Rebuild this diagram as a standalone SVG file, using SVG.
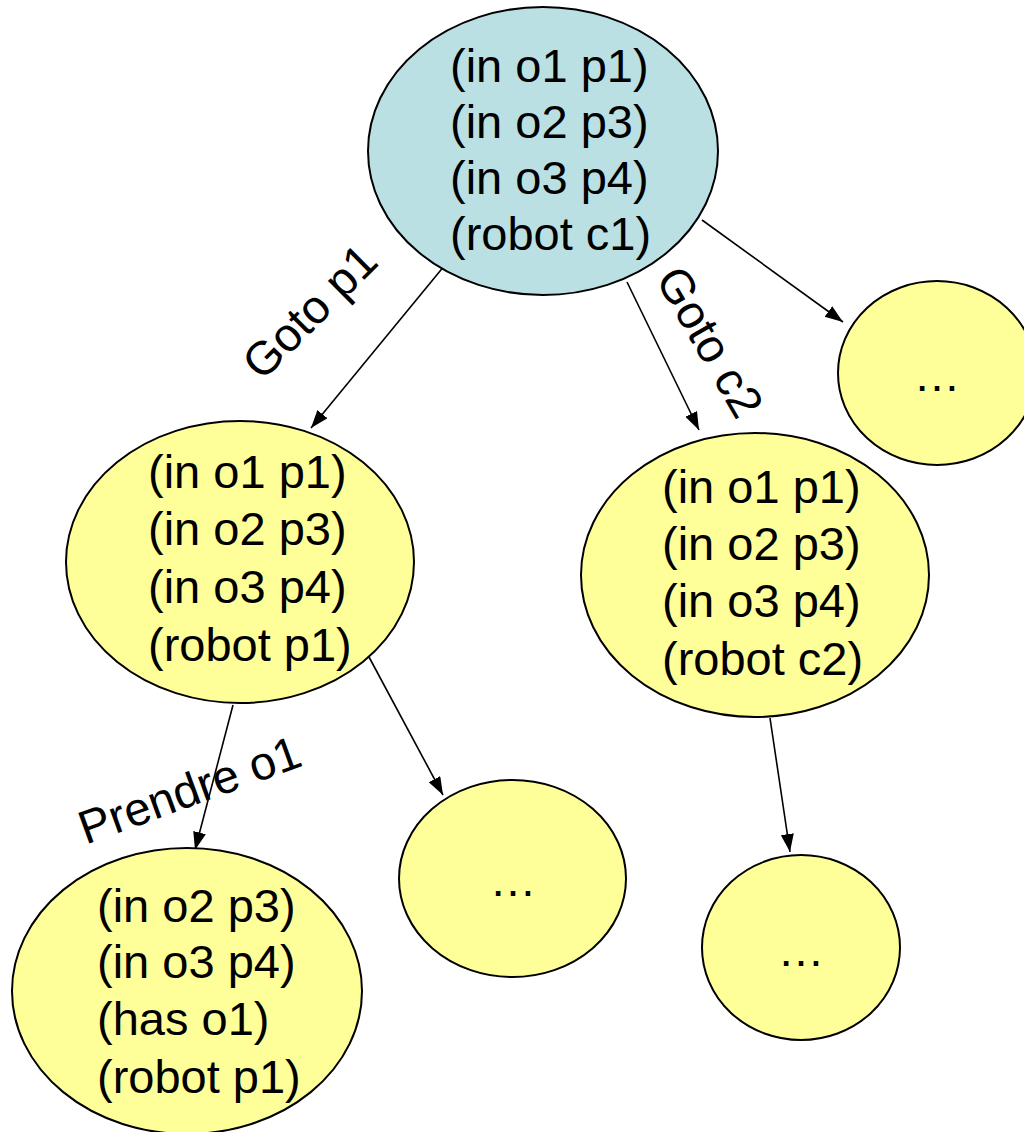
<svg xmlns="http://www.w3.org/2000/svg" width="1024" height="1132" viewBox="0 0 1024 1132">
  <style>
    .state { stroke: #000; stroke-width: 2; }
    .root { fill: #BBE0E3; }
    .leaf { fill: #FFFF99; }
    text { font-family: "Liberation Sans", Arial, sans-serif; font-size: 47px; fill: #000; }
    .more { text-anchor: middle; }
    .edge { stroke: #000; stroke-width: 1.6; fill: none; marker-end: url(#arrow); }
    .action { text-anchor: middle; }
  </style>
  <defs>
    <marker id="arrow" markerUnits="userSpaceOnUse" markerWidth="20" markerHeight="14" refX="18" refY="6.5" orient="auto">
      <path d="M0,0 L18,6.5 L0,13 z" fill="#000"/>
    </marker>
  </defs>

  <rect width="1024" height="1132" fill="#fff"/>

  <!-- transitions between states -->
  <g id="connectors">
    <line class="edge" x1="445" y1="265" x2="311" y2="428"/>
    <line class="edge" x1="627" y1="282" x2="699" y2="430"/>
    <line class="edge" x1="702" y1="220" x2="843" y2="322"/>
    <line class="edge" x1="233" y1="705" x2="195" y2="850"/>
    <line class="edge" x1="369" y1="657" x2="443" y2="795"/>
    <line class="edge" x1="770" y1="718" x2="790" y2="852"/>
    <text class="action" transform="translate(321,323) rotate(-45)">Goto p1</text>
    <text class="action" transform="translate(696,350) rotate(60)">Goto c2</text>
    <text class="action" transform="translate(195,805) rotate(-20)">Prendre o1</text>
  </g>

  <!-- initial state -->
  <g id="s0">
    <ellipse class="state root" cx="543" cy="151" rx="175" ry="144"/>
    <text x="450" y="82">(in o1 p1)</text>
    <text x="450" y="138">(in o2 p3)</text>
    <text x="450" y="194">(in o3 p4)</text>
    <text x="450" y="250">(robot c1)</text>
  </g>

  <!-- after Goto p1 -->
  <g id="s1">
    <ellipse class="state leaf" cx="240" cy="562" rx="174" ry="141"/>
    <text x="148" y="488">(in o1 p1)</text>
    <text x="148" y="545">(in o2 p3)</text>
    <text x="148" y="603">(in o3 p4)</text>
    <text x="148" y="661">(robot p1)</text>
  </g>

  <!-- after Goto c2 -->
  <g id="s2">
    <ellipse class="state leaf" cx="755" cy="575" rx="174" ry="142"/>
    <text x="662" y="503">(in o1 p1)</text>
    <text x="662" y="560">(in o2 p3)</text>
    <text x="662" y="617">(in o3 p4)</text>
    <text x="662" y="675">(robot c2)</text>
  </g>

  <!-- other successor of the initial state -->
  <g id="s3">
    <ellipse class="state leaf" cx="937" cy="373" rx="99" ry="92"/>
    <text class="more" x="937" y="391">…</text>
  </g>

  <!-- after Prendre o1 -->
  <g id="s4">
    <ellipse class="state leaf" cx="187" cy="991" rx="175" ry="143"/>
    <text x="97" y="922">(in o2 p3)</text>
    <text x="97" y="978">(in o3 p4)</text>
    <text x="97" y="1035">(has o1)</text>
    <text x="97" y="1093">(robot p1)</text>
  </g>

  <!-- other successor of s1 -->
  <g id="s5">
    <ellipse class="state leaf" cx="512.5" cy="878.5" rx="113.5" ry="98.5"/>
    <text class="more" x="513" y="896">…</text>
  </g>

  <!-- successor of s2 -->
  <g id="s6">
    <ellipse class="state leaf" cx="801" cy="947.5" rx="99" ry="92.5"/>
    <text class="more" x="801" y="966">…</text>
  </g>
</svg>
